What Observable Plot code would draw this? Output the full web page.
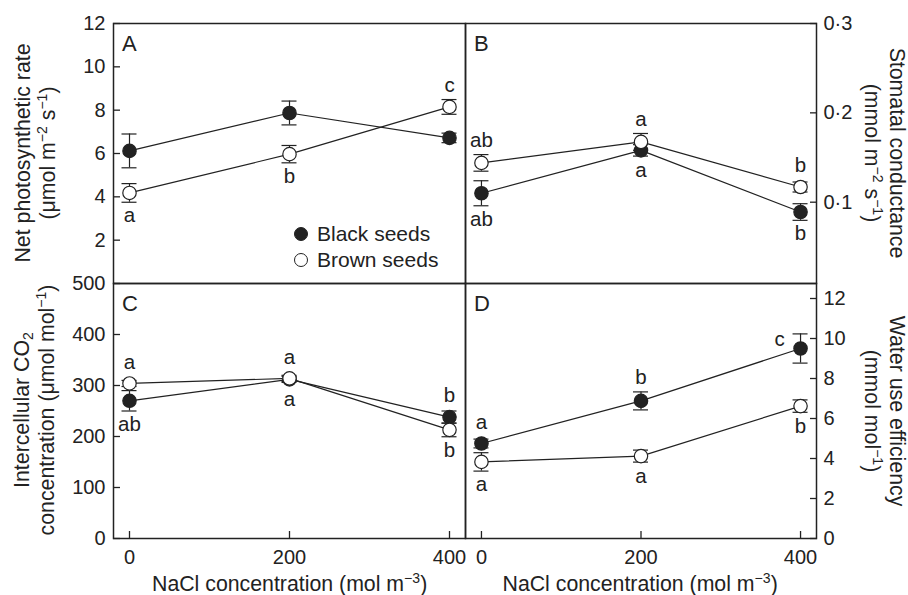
<!DOCTYPE html>
<html>
<head>
<meta charset="utf-8">
<script src="https://cdn.jsdelivr.net/npm/d3@7"></script>
<script src="https://cdn.jsdelivr.net/npm/@observablehq/plot@0.6"></script>
<style>
html,body{margin:0;padding:0;background:#fff;}
#chart{position:relative;width:908px;height:595px;overflow:hidden;font-family:"Liberation Sans",Arial,Helvetica,sans-serif;color:#222;}
#chart svg{position:absolute;overflow:visible;}
.lab{position:absolute;font-size:21.3px;line-height:25px;text-align:center;white-space:nowrap;transform-origin:center center;}
.sup{font-size:0.66em;position:relative;top:-0.55em;line-height:0;}
.sub{font-size:0.66em;position:relative;top:0.3em;line-height:0;}
.legend{position:absolute;font-size:21px;}
.legend .row{display:flex;align-items:center;height:26px;}
.legend .dot{width:12.5px;height:12.5px;border:1.3px solid #222;border-radius:50%;margin-right:9px;box-sizing:content-box;}
</style>
</head>
<body>
<div id="chart"></div>
<script>
// ---------- data ----------
const nacl = [0, 200, 400];
const xTicks = [0, 200, 400];
const seriesNames = ["Black seeds", "Brown seeds"];

// A: net photosynthetic rate
const aBlack = [6.12, 7.87, 6.72];
const aBlackErr = [0.78, 0.55, 0.22];
const aBrown = [4.18, 5.97, 8.15];
const aBrownErr = [0.43, 0.40, 0.34];
const aBlackLetters = ["", "", ""];
const aBrownLetters = ["a", "b", "c"];
const aTicks = [2, 4, 6, 8, 10, 12];

// B: stomatal conductance
const bBlack = [0.110, 0.158, 0.089];
const bBlackErr = [0.014, 0.0064, 0.0093];
const bBrown = [0.144, 0.1675, 0.117];
const bBrownErr = [0.0093, 0.0094, 0.0056];
const bBlackLetters = ["ab", "a", "b"];
const bBrownLetters = ["ab", "a", "b"];
const bTicks = [0.1, 0.2, 0.3];
const bTickLabels = ["0·1", "0·2", "0·3"];

// C: intercellular CO2
const cBlack = [270, 312, 238];
const cBlackErr = [20, 6, 12];
const cBrown = [304, 314, 213];
const cBrownErr = [6, 6, 13.5];
const cBlackLetters = ["ab", "a", "b"];
const cBrownLetters = ["a", "a", "b"];
const cTicks = [0, 100, 200, 300, 400, 500];

// D: water use efficiency
const dBlack = [4.75, 6.88, 9.5];
const dBlackErr = [0.22, 0.45, 0.73];
const dBrown = [3.83, 4.12, 6.62];
const dBrownErr = [0.46, 0.3, 0.31];
const dBlackLetters = ["a", "b", "c"];
const dBrownLetters = ["a", "a", "b"];
const dTicks = [0, 2, 4, 6, 8, 10, 12];

// ---------- drawing ----------
const ink = "#222";
const chart = document.getElementById("chart");
const FONT = "'Liberation Sans', Arial, Helvetica, sans-serif";

function makePanel(p) {
  const rows = [];
  nacl.forEach((x, i) => {
    const blackHigh = p.black[i] >= p.brown[i];
    rows.push({series: "black", x, y: p.black[i], e: p.blackErr[i], letter: p.blackLetters[i], side: blackHigh ? "above" : "below"});
    rows.push({series: "brown", x, y: p.brown[i], e: p.brownErr[i], letter: p.brownLetters[i], side: blackHigh ? "below" : "above"});
  });
  if (p.leftLetter) rows.forEach(r => { if (r.series === p.leftLetter.series && r.x === p.leftLetter.x) r.side = "left"; });
  const plotH = p.height - p.mT - p.mB;
  const plotW = p.width - p.mL - p.mR;
  const xDom = [-20, 420];
  const rU = 6.7 * (p.yDomain[1] - p.yDomain[0]) / plotH;
  const capU = 7.5 * (xDom[1] - xDom[0]) / plotW;
  const marks = [];
  marks.push(Plot.frame({stroke: ink, strokeWidth: 1.5}));
  marks.push(Plot.ruleX(rows, {x: "x", y1: d => d.y - d.e, y2: d => d.y + d.e, stroke: ink, strokeWidth: 1.2}));
  marks.push(Plot.ruleY(rows, {y: d => d.y - d.e, x1: d => d.x - capU, x2: d => d.x + capU, stroke: ink, strokeWidth: 1.2}));
  marks.push(Plot.ruleY(rows, {y: d => d.y + d.e, x1: d => d.x - capU, x2: d => d.x + capU, stroke: ink, strokeWidth: 1.2}));
  for (const s of ["black", "brown"]) {
    marks.push(Plot.line(rows.filter(d => d.series === s), {x: "x", y: "y", stroke: ink, strokeWidth: 1.2}));
  }
  marks.push(Plot.dot(rows, {x: "x", y: "y", r: 6.7, fill: d => d.series === "black" ? ink : "white", stroke: ink, strokeWidth: 1.2}));
  marks.push(Plot.text(rows.filter(d => d.letter && d.side === "above"), {x: "x", y: d => d.y + Math.max(d.e, rU), text: "letter", dy: -14.5, fontSize: 20.5, fill: ink}));
  marks.push(Plot.text(rows.filter(d => d.letter && d.side === "below"), {x: "x", y: d => d.y - Math.max(d.e, rU), text: "letter", dy: 13.5, fontSize: 20.5, fill: ink}));
  marks.push(Plot.text(rows.filter(d => d.letter && d.side === "left"), {x: "x", y: d => d.y + d.e, text: "letter", dx: -21, dy: 5.5, fontSize: 20.5, fill: ink}));
  marks.push(Plot.text([p.name], {text: d => d, frameAnchor: "top-left", dx: 8.5, dy: 11.5, lineAnchor: "top", textAnchor: "start", fontSize: 22, fill: ink}));
  if (p.yAxis === "left") {
    marks.push(Plot.axisY(p.ticks, {anchor: "left", tickSize: -7, tickPadding: 15, tickFormat: p.fmt, label: null, stroke: ink, strokeWidth: 1.3, fill: ink}));
  } else {
    marks.push(Plot.axisY(p.ticks, {anchor: "right", tickSize: -7, tickPadding: 14, tickFormat: p.fmt, label: null, stroke: ink, strokeWidth: 1.3, fill: ink}));
  }
  if (p.showX) {
    marks.push(Plot.axisX(xTicks, {anchor: "bottom", tickSize: -7, tickPadding: 18.5, tickFormat: d => String(d), label: null, stroke: ink, strokeWidth: 1.3, fill: ink}));
  }
  const svg = Plot.plot({
    width: p.width, height: p.height,
    marginLeft: p.mL, marginRight: p.mR, marginTop: p.mT, marginBottom: p.mB,
    style: {overflow: "visible", fontFamily: FONT, fontSize: "20px", color: ink, background: "transparent"},
    x: {domain: xDom, axis: p.showX ? undefined : null},
    y: {domain: p.yDomain},
    marks
  });
  svg.style.left = p.left + "px";
  svg.style.top = p.top + "px";
  chart.appendChild(svg);
}

makePanel({name: "A", black: aBlack, blackErr: aBlackErr, brown: aBrown, brownErr: aBrownErr,
  blackLetters: aBlackLetters, brownLetters: aBrownLetters, yDomain: [0, 12], ticks: aTicks, fmt: d => String(d),
  yAxis: "left", showX: false, left: 0, top: 0, width: 465, height: 283, mL: 113, mR: 0, mT: 23, mB: 0});
makePanel({name: "B", black: bBlack, blackErr: bBlackErr, brown: bBrown, brownErr: bBrownErr,
  blackLetters: bBlackLetters, brownLetters: bBrownLetters, yDomain: [0.009, 0.3], ticks: bTicks,
  fmt: d => bTickLabels[bTicks.findIndex(t => Math.abs(t - d) < 1e-9)],
  yAxis: "right", showX: false, left: 465, top: 0, width: 443, height: 283, mL: 0, mR: 92, mT: 23, mB: 0});
makePanel({name: "C", black: cBlack, blackErr: cBlackErr, brown: cBrown, brownErr: cBrownErr,
  blackLetters: cBlackLetters, brownLetters: cBrownLetters, yDomain: [0, 500], ticks: cTicks, fmt: d => String(d),
  yAxis: "left", showX: true, left: 0, top: 283, width: 465, height: 312, mL: 113, mR: 0, mT: 0, mB: 57});
makePanel({name: "D", black: dBlack, blackErr: dBlackErr, brown: dBrown, brownErr: dBrownErr,
  blackLetters: dBlackLetters, brownLetters: dBrownLetters, yDomain: [0, 12.75], ticks: dTicks, fmt: d => String(d),
  yAxis: "right", showX: true, left: 465, top: 283, width: 443, height: 312, mL: 0, mR: 92, mT: 0, mB: 57,
  leftLetter: {series: "black", x: 400}});

// ---------- axis titles ----------
function addLabel(html, cx, cy, rot) {
  const d = document.createElement("div");
  d.className = "lab";
  d.innerHTML = html;
  chart.appendChild(d);
  const w = d.offsetWidth, h = d.offsetHeight;
  d.style.left = (cx - w / 2) + "px";
  d.style.top = (cy - h / 2) + "px";
  if (rot) d.style.transform = `rotate(${rot}deg)`;
}
const sup = s => `<span class="sup">${s}</span>`;
const sub = s => `<span class="sub">${s}</span>`;
addLabel(`Net photosynthetic rate<br>(μmol m${sup("−2")} s${sup("−1")})`, 35.5, 153, -90);
addLabel(`Intercellular CO${sub("2")}<br>concentration (μmol mol${sup("−1")})`, 35.5, 410, -90);
addLabel(`Stomatal conductance<br>(mmol m${sup("−2")} s${sup("−1")})`, 884.5, 152.5, 90);
addLabel(`Water use efficiency<br>(mmol mol${sup("−1")})`, 884.5, 411, 90);
addLabel(`NaCl concentration (mol m${sup("−3")})`, 289.5, 584, 0);
addLabel(`NaCl concentration (mol m${sup("−3")})`, 640, 584, 0);

// ---------- legend ----------
const leg = document.createElement("div");
leg.className = "legend";
leg.style.left = "293.5px";
leg.style.top = "221px";
seriesNames.forEach((name, i) => {
  const row = document.createElement("div");
  row.className = "row";
  const dot = document.createElement("span");
  dot.className = "dot";
  dot.style.background = i === 0 ? ink : "white";
  row.appendChild(dot);
  row.appendChild(document.createTextNode(name));
  leg.appendChild(row);
});
chart.appendChild(leg);
</script>
</body>
</html>
